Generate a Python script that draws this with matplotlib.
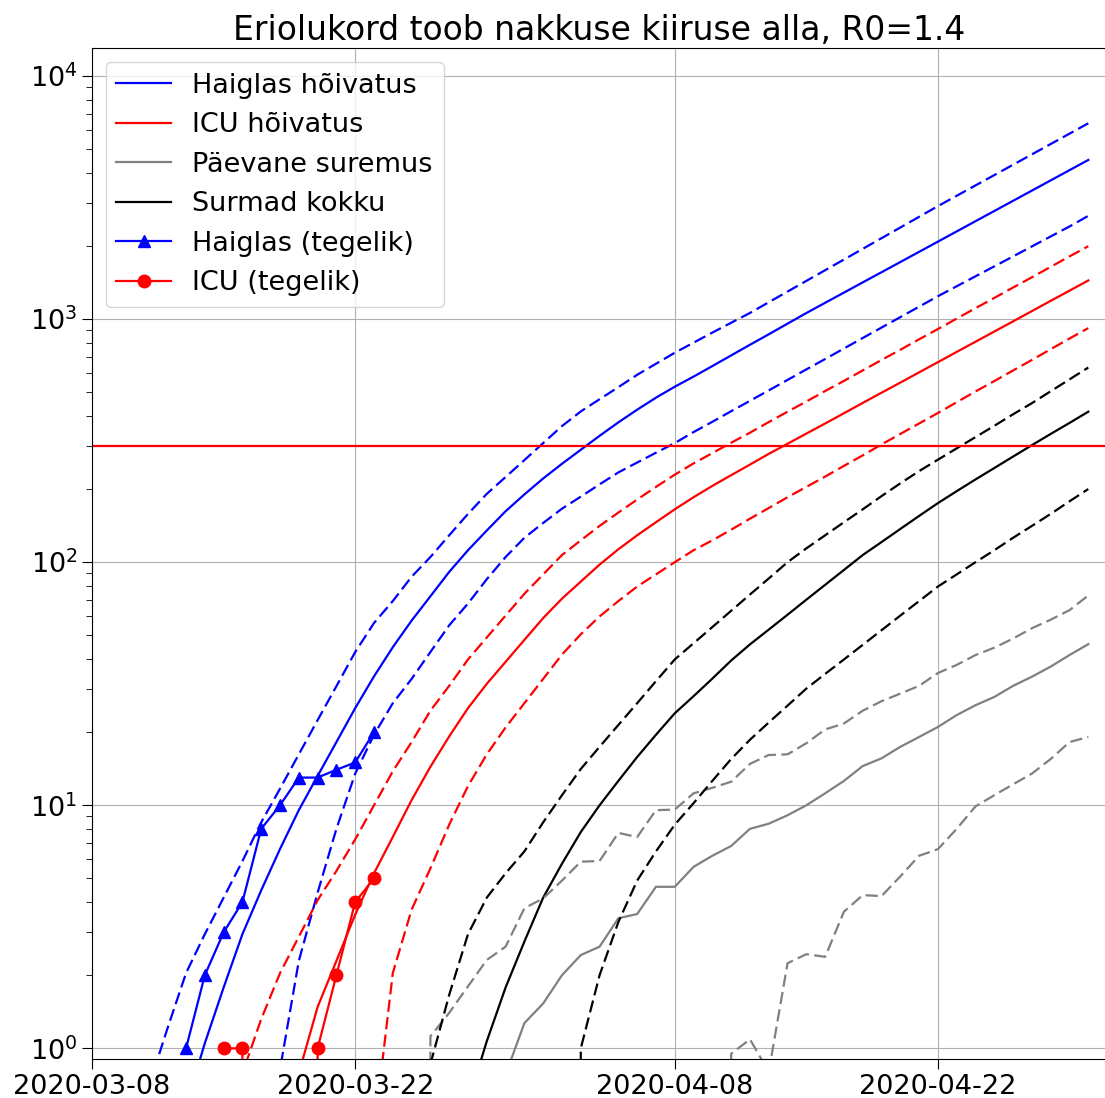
import pandas as pd
import matplotlib
matplotlib.use("Agg")
import matplotlib.pyplot as plt
import matplotlib.dates as mdates

plt.rcParams["font.size"] = 19.5

# Model runs end on the same day; each list runs daily up to LAST_DAY
LAST_DAY = "2020-04-30"

# hospital occupancy: median and the two bounds
hosp_mid = [0.58, 1.05, 1.78, 2.95, 4.47, 6.61, 9.55, 13.2, 18.2, 25.1, 33.9, 44.7,
            57.5, 72.4, 91.2, 112, 135, 162, 190, 221, 254, 290, 331, 376, 424, 475,
            527, 580, 641, 709, 784, 866, 958, 1059, 1167, 1285, 1416, 1559, 1717,
            1891, 2083, 2295, 2528, 2784, 3067, 3378, 3721, 4099, 4515]
hosp_hi = [0.69, 1.20, 2.04, 2.95, 4.17, 5.89, 8.51, 11.7, 16.2, 22.4, 30.9, 42.7,
           56.2, 69.2, 87.1, 105, 129, 158, 191, 224, 263, 309, 363, 417, 468, 525,
           590, 655, 727, 800, 880, 966, 1060, 1173, 1298, 1436, 1589, 1758, 1945,
           2152, 2381, 2635, 2916, 3216, 3548, 3913, 4316, 4761, 5251, 5792, 6389]
hosp_lo = [0, 0.82, 2.29, 4.37, 8.0, 13.5, 19.5, 26.3, 33.1, 42.7, 55.0, 67.6, 85.1,
           105, 126, 145, 166, 186, 209, 234, 257, 282, 309, 343, 378, 418, 461, 509,
           562, 621, 685, 757, 836, 923, 1019, 1125, 1242, 1365, 1500, 1648, 1811,
           1991, 2188, 2404, 2660]

# ICU occupancy
icu_mid = [0.3, 0.79, 1.48, 2.29, 3.55, 5.25, 7.41, 10.5, 14.4, 19.2, 25.1, 31.6, 38.9,
           47.9, 58.9, 70.8, 83.2, 97.7, 113, 129, 146, 165, 185, 206, 228, 252, 279,
           307, 338, 372, 410, 452, 498, 548, 604, 665, 733, 807, 889, 979, 1079, 1189,
           1309, 1442]
icu_hi = [0.3, 0.79, 1.32, 2.04, 2.88, 4.07, 5.37, 7.24, 10.0, 13.8, 18.2, 24.5, 31.0,
          39.8, 49.0, 60.3, 74.1, 89.1, 107, 123, 141, 160, 181, 204, 229, 255, 281,
          310, 341, 377, 416, 458, 506, 557, 615, 679, 748, 826, 910, 1005, 1109, 1222,
          1349, 1486, 1641, 1811, 1995]
icu_lo = [0, 0.45, 2.04, 3.72, 5.50, 8.32, 12.0, 16.2, 20.9, 26.3, 33.1, 41.7, 50.5,
          59.8, 69.2, 79.4, 89.1, 100, 112, 123, 136, 151, 167, 185, 204, 225, 249, 275,
          305, 337, 372, 411, 455, 504, 556, 615, 679, 752, 832, 918]

# daily deaths
daily_mid = [0, 0.78, 1.27, 1.53, 2.0, 2.42, 2.62, 3.43, 3.57, 4.62, 4.62, 5.58, 6.2,
             6.8, 8.0, 8.4, 9.1, 10.0, 11.2, 12.6, 14.5, 15.6, 17.4, 19.1, 21.0, 23.5,
             25.8, 27.9, 31.0, 33.8, 37.2, 41.5, 46.0]
daily_hi = [0, 1.12, 1.4, 1.8, 2.31, 2.62, 3.77, 4.14, 4.9, 5.86, 5.9, 7.7, 7.4, 9.55,
            9.6, 11.2, 11.8, 12.5, 14.8, 16.1, 16.2, 18.0, 20.5, 21.7, 24.5, 26.8,
            28.8, 31.0, 35.0, 37.8, 41.5, 44.5, 48.5, 53.5, 58.0, 63.5, 73.0]
daily_lo = [0, 0.95, 1.09, 0.8, 2.24, 2.44, 2.38, 3.65, 4.27, 4.23, 5.1, 6.2, 6.6, 8.0,
            9.9, 11.0, 12.2, 13.5, 15.5, 18.2, 19.1]

# cumulative deaths
deaths_mid = [0, 0.6, 1.07, 1.78, 2.75, 4.17, 5.75, 7.76, 10.0, 12.6, 15.8, 19.5, 23.9,
              28.1, 33.2, 39.4, 45.9, 52.8, 60.8, 70.1, 80.7, 92.9, 107, 121, 137, 155,
              175, 196, 219, 244, 272, 303, 337, 374, 416]
deaths_hi = [0.3, 0.86, 1.66, 2.95, 4.17, 5.25, 6.46, 8.51, 11.0, 14.1, 17.4, 21.4,
             26.3, 32.4, 39.8, 46.4, 54.1, 63.1, 73.6, 85.7, 100, 114, 129, 146, 165,
             187, 211, 237, 264, 294, 327, 364, 406, 451, 505, 565, 632]
deaths_lo = [0, 1.0, 2.0, 3.31, 4.90, 6.46, 8.32, 10.2, 12.6, 15.5, 18.6, 21.9, 25.7,
             30.2, 34.7, 39.8, 45.7, 52.5, 60.3, 69.2, 79.4, 89.1, 100, 112, 126, 141,
             158, 178, 200]

# reported numbers
hosp_actual_start = "2020-03-13"
hosp_actual = [1, 2, 3, 4, 8, 10, 13, 13, 14, 15, 20]
icu_actual_start = "2020-03-15"
icu_actual = [1, 1, 0, 0, 0, 1, 2, 4, 5]

ICU_CAPACITY = 300
x_ticks = ["2020-03-08", "2020-03-22", "2020-04-08", "2020-04-22"]


def days(values, end=LAST_DAY):
    return pd.date_range(end=end, periods=len(values), freq="D")


fig = plt.figure(figsize=(11.05, 10.98), dpi=100)
ax = fig.add_axes([0.0833, 0.0355, 0.9186, 0.9205])

LW = 1.6
DASH = (5.5, 2.4)
for series, color, label in [(hosp_mid, "blue", "Haiglas hõivatus"),
                             (icu_mid, "red", "ICU hõivatus"),
                             (daily_mid, "gray", "Päevane suremus"),
                             (deaths_mid, "black", "Surmad kokku")]:
    ax.plot(days(series), series, color=color, lw=LW, label=label)

for series, color in [(hosp_hi, "blue"), (hosp_lo, "blue"),
                      (icu_hi, "red"), (icu_lo, "red"),
                      (daily_hi, "gray"), (daily_lo, "gray"),
                      (deaths_hi, "black"), (deaths_lo, "black")]:
    ax.plot(days(series), series, color=color, lw=LW, ls="--", dashes=DASH)

ax.plot(pd.date_range(hosp_actual_start, periods=len(hosp_actual)), hosp_actual,
        color="blue", marker="^", ms=9, lw=LW, label="Haiglas (tegelik)")
ax.plot(pd.date_range(icu_actual_start, periods=len(icu_actual)), icu_actual,
        color="red", marker="o", ms=9, lw=LW, label="ICU (tegelik)")

ax.axhline(ICU_CAPACITY, color="red", lw=LW)

ax.set_yscale("log")
ax.set_ylim(0.904, 13000)
ax.set_xlim(pd.Timestamp("2020-03-08"), pd.Timestamp("2020-05-01"))
ax.set_xticks(pd.to_datetime(x_ticks))
ax.xaxis.set_major_formatter(mdates.DateFormatter("%Y-%m-%d"))
ax.tick_params(which="major", length=7)
ax.tick_params(which="minor", length=4.5)
ax.grid(True)

ax.set_title("Eriolukord toob nakkuse kiiruse alla, R0=1.4", fontsize=23.8)
ax.legend(loc="upper left")

fig.savefig("out.png", dpi=100)
